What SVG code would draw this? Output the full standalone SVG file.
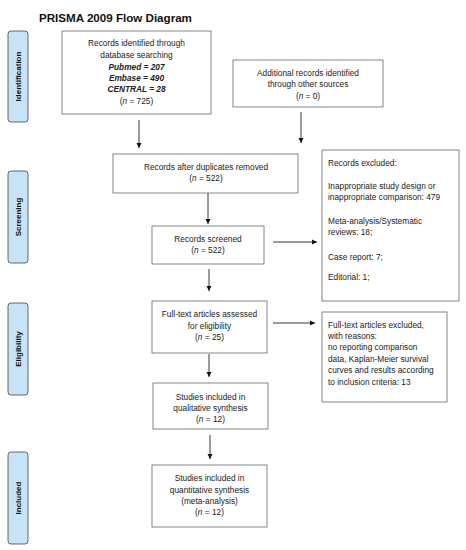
<svg xmlns="http://www.w3.org/2000/svg" width="466" height="550" viewBox="0 0 466 550">
<style>
.box{fill:#fff;stroke:#666;stroke-width:0.8}
.side{fill:#c6e3f7;stroke:#444;stroke-width:0.8}
.t{font-family:"Liberation Sans",Arial,sans-serif;font-size:8.3px;fill:#222;text-anchor:middle}
.l{font-family:"Liberation Sans",Arial,sans-serif;font-size:8.3px;fill:#222}
.s{font-family:"Liberation Sans",Arial,sans-serif;font-size:8px;font-weight:bold;fill:#111;text-anchor:middle}
.bi{font-weight:bold;font-style:italic}
.c{stroke:#222;stroke-width:0.9;fill:none;marker-end:url(#ah)}
</style>
<defs>
<marker id="ah" markerWidth="6" markerHeight="6" refX="5" refY="3" orient="auto" markerUnits="userSpaceOnUse">
<path d="M0,0.5 L5,3 L0,5.5 Z" fill="#111"/>
</marker>
</defs>
<rect width="466" height="550" fill="#fff"/>
<text x="39" y="22" style="font-family:'Liberation Sans',Arial,sans-serif;font-size:11.6px;font-weight:bold;fill:#111">PRISMA 2009 Flow Diagram</text>

<g id="side-identification"><rect class="side" x="8" y="31" width="20" height="91" rx="3"/><text class="s" transform="translate(21,76.5) rotate(-90)">Identification</text></g>
<g id="side-screening"><rect class="side" x="8" y="171" width="20" height="92" rx="3"/><text class="s" transform="translate(21,217) rotate(-90)">Screening</text></g>
<g id="side-eligibility"><rect class="side" x="8" y="303" width="20" height="92" rx="3"/><text class="s" transform="translate(21,349) rotate(-90)">Eligibility</text></g>
<g id="side-included"><rect class="side" x="8" y="452" width="20" height="92" rx="3"/><text class="s" transform="translate(21,498) rotate(-90)">Included</text></g>

<g id="db-search"><rect class="box" x="62" y="31" width="149" height="83"/>
<text class="t" x="136.5" y="46">Records identified through</text>
<text class="t" x="136.5" y="58">database searching</text>
<text class="t bi" x="136.5" y="70">Pubmed = 207</text>
<text class="t bi" x="136.5" y="81">Embase = 490</text>
<text class="t bi" x="136.5" y="92">CENTRAL = 28</text>
<text class="t" x="136.5" y="104">(<tspan font-style="italic">n</tspan> = 725)</text></g>

<g id="other-sources"><rect class="box" x="233" y="60" width="150" height="47"/>
<text class="t" x="308" y="76">Additional records identified</text>
<text class="t" x="308" y="87">through other sources</text>
<text class="t" x="308" y="99">(<tspan font-style="italic">n</tspan> = 0)</text></g>

<g id="duplicates"><rect class="box" x="113" y="154" width="185" height="39"/>
<text class="t" x="206" y="170">Records after duplicates removed</text>
<text class="t" x="206" y="181">(<tspan font-style="italic">n</tspan> = 522)</text></g>

<g id="screened"><rect class="box" x="152" y="226" width="112" height="38"/>
<text class="t" x="208" y="242">Records screened</text>
<text class="t" x="208" y="253">(<tspan font-style="italic">n</tspan> = 522)</text></g>

<g id="excluded"><rect class="box" x="322" y="150" width="137" height="151"/>
<text class="l" x="328" y="166">Records excluded:</text>
<text class="l" x="328" y="189">Inappropriate study design or</text>
<text class="l" x="328" y="200">inappropriate comparison: 479</text>
<text class="l" x="328" y="224">Meta-analysis/Systematic</text>
<text class="l" x="328" y="235">reviews: 18;</text>
<text class="l" x="328" y="260">Case report: 7;</text>
<text class="l" x="328" y="280">Editorial: 1;</text></g>

<g id="fulltext"><rect class="box" x="152" y="301" width="115" height="52"/>
<text class="t" x="209.5" y="317">Full-text articles assessed</text>
<text class="t" x="209.5" y="329">for eligibility</text>
<text class="t" x="209.5" y="340">(<tspan font-style="italic">n</tspan> = 25)</text></g>

<g id="fulltext-excluded"><rect class="box" x="322" y="312" width="125" height="90"/>
<text class="l" x="328" y="328">Full-text articles excluded,</text>
<text class="l" x="328" y="339">with reasons:</text>
<text class="l" x="328" y="350"> no reporting comparison</text>
<text class="l" x="328" y="362">data, Kaplan-Meier survival</text>
<text class="l" x="328" y="373">curves and results according</text>
<text class="l" x="328" y="385">to inclusion criteria: 13</text></g>

<g id="qualitative"><rect class="box" x="153" y="383" width="115" height="46"/>
<text class="t" x="210.5" y="400">Studies included in</text>
<text class="t" x="210.5" y="411">qualitative synthesis</text>
<text class="t" x="210.5" y="422">(<tspan font-style="italic">n</tspan> = 12)</text></g>

<g id="quantitative"><rect class="box" x="152" y="465" width="115" height="62"/>
<text class="t" x="209.5" y="481">Studies included in</text>
<text class="t" x="209.5" y="493">quantitative synthesis</text>
<text class="t" x="209.5" y="504">(meta-analysis)</text>
<text class="t" x="209.5" y="515">(<tspan font-style="italic">n</tspan> = 12)</text></g>

<g id="connectors">
<path class="c" d="M139,120 V148"/>
<path class="c" d="M301,112 V143"/>
<path class="c" d="M208,193 V224"/>
<path class="c" d="M273,242 H317"/>
<path class="c" d="M209,269 V291"/>
<path class="c" d="M273,323 H315"/>
<path class="c" d="M209,354 V377"/>
<path class="c" d="M210,435 V459"/>
</g>
</svg>
